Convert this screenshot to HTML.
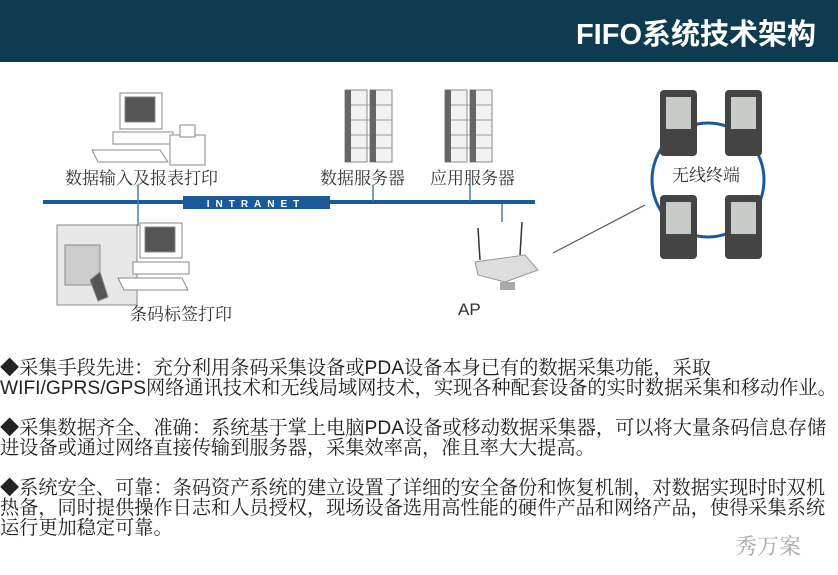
<!DOCTYPE html>
<html><head><meta charset="utf-8"><style>
body{margin:0;width:838px;height:575px;background:#fff;overflow:hidden;position:relative;font-family:"Liberation Sans","Noto Sans CJK SC",sans-serif}
.hd{position:absolute;left:0;top:0;width:838px;height:62px;background:#0e3b4f}
.t{position:absolute;right:22px;top:11px;color:#fff;font-weight:bold;font-size:29px;letter-spacing:0px}
.lbl{position:absolute;font-size:17px;color:#333;font-family:"Liberation Sans","Noto Serif CJK SC",serif;white-space:nowrap}
.p{position:absolute;left:0;font-size:19.2px;color:#222;line-height:20px;white-space:nowrap;font-family:"Liberation Sans","Noto Serif CJK SC",serif}
</style></head><body>
<div class="hd"><div class="t">FIFO系统技术架构</div></div>
<svg width="838" height="340" style="position:absolute;left:0;top:0">
<rect x="43" y="200" width="492" height="4" fill="#1a5a9a"/>
<rect x="183" y="196" width="147" height="13" fill="#1a5a9a"/>
<text x="256" y="207" font-family="Liberation Sans" font-weight="bold" font-size="10" fill="#fff" text-anchor="middle" letter-spacing="6">INTRANET</text>
<line x1="138" y1="185" x2="138" y2="226" stroke="#4a7ab0" stroke-width="1.5"/>
<line x1="373" y1="185" x2="373" y2="201" stroke="#4a7ab0" stroke-width="1.5"/>
<line x1="470" y1="185" x2="470" y2="201" stroke="#4a7ab0" stroke-width="1.5"/>
<line x1="502" y1="204" x2="502" y2="222" stroke="#4a7ab0" stroke-width="1.5"/>
<line x1="553" y1="253" x2="645" y2="205" stroke="#556" stroke-width="1.2"/>
<g stroke="#888" fill="#fff" stroke-width="1">
<rect x="120" y="93" width="42" height="36" />
<rect x="125" y="97" width="30" height="25" fill="#555"/>
<rect x="113" y="132" width="60" height="12"/>
<polygon points="92,150 160,150 168,162 98,162"/>
<rect x="170" y="135" width="35" height="30"/>
<rect x="180" y="125" width="15" height="12"/>
<rect x="57" y="225" width="80" height="80" fill="#e8e8e8"/>
<rect x="65" y="245" width="35" height="40" fill="#ccc"/>
<path d="M90 280 l10 -8 l8 25 l-10 4z" fill="#555"/>
<rect x="140" y="223" width="42" height="35"/>
<rect x="145" y="227" width="30" height="25" fill="#555"/>
<rect x="133" y="262" width="56" height="12"/>
<polygon points="118,278 182,278 188,290 124,290"/>
<rect x="345" y="90" width="22" height="72" fill="#f2f2f2"/>
<rect x="370" y="90" width="22" height="72" fill="#f2f2f2"/>
<rect x="445" y="90" width="22" height="72" fill="#f2f2f2"/>
<rect x="470" y="90" width="22" height="72" fill="#f2f2f2"/>
</g>
<g stroke="#999" stroke-width="1">
<line x1="345" y1="105" x2="392" y2="105"/><line x1="345" y1="120" x2="392" y2="120"/><line x1="345" y1="135" x2="392" y2="135"/><line x1="345" y1="148" x2="392" y2="148"/>
<line x1="445" y1="105" x2="492" y2="105"/><line x1="445" y1="120" x2="492" y2="120"/><line x1="445" y1="135" x2="492" y2="135"/><line x1="445" y1="148" x2="492" y2="148"/>
</g>
<rect x="345" y="90" width="6" height="72" fill="#666"/><rect x="370" y="90" width="6" height="72" fill="#666"/>
<rect x="445" y="90" width="6" height="72" fill="#666"/><rect x="470" y="90" width="6" height="72" fill="#666"/>
<line x1="478" y1="228" x2="480" y2="260" stroke="#333" stroke-width="1.5"/>
<line x1="522" y1="222" x2="520" y2="255" stroke="#333" stroke-width="1.5"/>
<polygon points="475,262 525,255 538,270 505,282 478,275" fill="#ddd" stroke="#999"/>
<rect x="500" y="282" width="15" height="8" fill="#aaa"/>
<ellipse cx="708" cy="180" rx="56" ry="57" fill="none" stroke="#1a5a9a" stroke-width="3"/>
<g fill="#444">
<rect x="660" y="90" width="37" height="66" rx="4"/><rect x="725" y="90" width="37" height="66" rx="4"/>
<rect x="660" y="195" width="37" height="64" rx="4"/><rect x="725" y="195" width="37" height="64" rx="4"/>
</g>
<g fill="#c8ccc8">
<rect x="666" y="97" width="25" height="32"/><rect x="731" y="97" width="25" height="32"/>
<rect x="666" y="202" width="25" height="32"/><rect x="731" y="202" width="25" height="32"/>
</g>
</svg>
<div class="lbl" style="left:65px;top:164px">数据输入及报表打印</div>
<div class="lbl" style="left:320px;top:164px">数据服务器</div>
<div class="lbl" style="left:430px;top:164px">应用服务器</div>
<div class="lbl" style="left:672px;top:161px">无线终端</div>
<div class="lbl" style="left:130px;top:300px">条码标签打印</div>
<div class="lbl" style="left:458px;top:300px;font-family:'Liberation Sans',sans-serif">AP</div>
<div class="p" style="top:359px">◆采集手段先进：充分利用条码采集设备或PDA设备本身已有的数据采集功能，采取<br>WIFI/GPRS/GPS网络通讯技术和无线局域网技术，实现各种配套设备的实时数据采集和移动作业。</div>
<div class="p" style="top:419px">◆采集数据齐全、准确：系统基于掌上电脑PDA设备或移动数据采集器，可以将大量条码信息存储<br>进设备或通过网络直接传输到服务器，采集效率高，准且率大大提高。</div>
<div class="p" style="top:479px">◆系统安全、可靠：条码资产系统的建立设置了详细的安全备份和恢复机制，对数据实现时时双机<br>热备，同时提供操作日志和人员授权，现场设备选用高性能的硬件产品和网络产品，使得采集系统<br>运行更加稳定可靠。</div>
<div class="lbl" style="left:735px;top:530px;color:#aaa;font-size:22px">秀万案</div>
</body></html>
